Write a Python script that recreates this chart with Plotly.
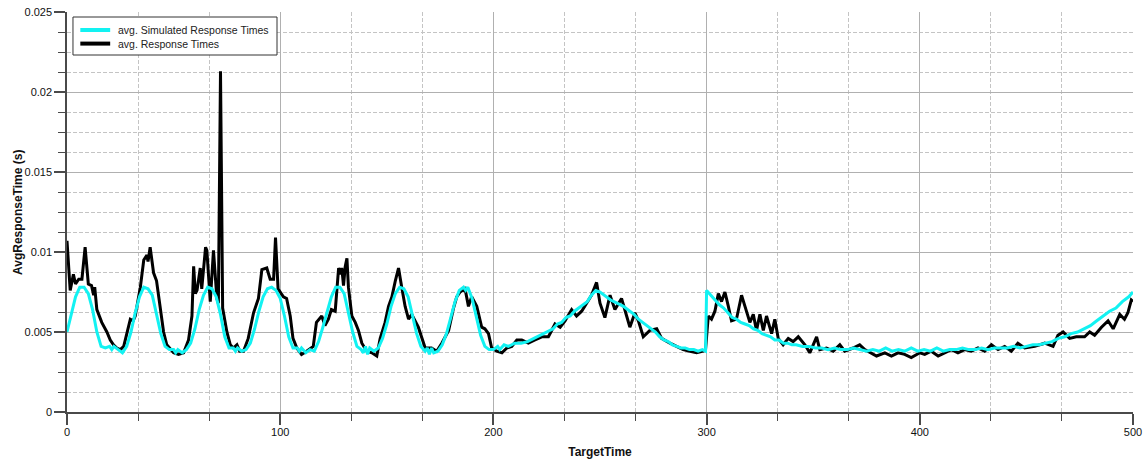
import plotly.graph_objects as go

# ---- data ----
resp_t = [0, 1.5, 3, 4, 5.5, 7, 8.5, 10, 11.5, 12.5, 13, 14, 16.3, 18.7, 20.3, 21.8, 23.4, 25, 26.6, 28,
          29.7, 31, 32, 34.4, 36, 37.5, 38, 39, 40.6, 42, 43.7, 45.3, 46.8, 48.5, 50, 52.3, 54.7, 57, 58.6, 59.4,
          60.2, 61, 62.5, 63.2, 65, 65.6, 67.2, 68.7, 70.3, 71, 72, 73, 75, 76.6, 78, 79.7, 81, 82.8, 85, 87.5,
          89.8, 91.4, 93.7, 95.3, 96.9, 97.8, 99, 101.5, 103, 104.7, 106, 107.8, 110, 112.4, 115.5, 117, 119.5, 121, 122.6, 124,
          125.8, 127.4, 128.2, 128.9, 129.7, 130.5, 131.3, 132, 133.6, 135.2, 136.7, 138.3, 140.6, 143, 145.3, 146.9, 149.2, 150.8, 152.4, 154,
          155.5, 157, 158.6, 160.2, 161.7, 164.8, 166.4, 168, 171, 173.4, 175.8, 179, 181.3, 182.8, 184.4, 186.7, 188.3, 189.8, 192.2, 194.5,
          196, 197.7, 199.2, 201.6, 204, 206.3, 208.6, 211, 213.3, 216.4, 219.5, 222.7, 225.8, 228.9, 231.3, 233.6, 236.7, 239, 241.4, 243.8,
          246, 248.4, 250, 252.3, 254.7, 257, 260.1, 262.5, 264, 266.4, 268, 270.3, 273.4, 276.6, 278.9, 282.8, 286, 289, 292.2, 295.3,
          298.4, 299.5, 300.8, 302.3, 303.9, 305.5, 307, 308.6, 310.2, 311.7, 314, 316.4, 318, 320.3, 321.9, 323.4, 325, 326.6, 328.1, 330.5,
          332, 333.6, 335.9, 338.3, 340.6, 343, 346.1, 348.4, 351.6, 353.1, 356.2, 359.4, 362.5, 364.8, 368.7, 371.8, 374.2, 377.3, 379.7, 383.6,
          386.7, 389.8, 392.9, 396, 400, 402.3, 405.4, 408.6, 411.7, 414.8, 417.9, 421, 424.2, 427.3, 430.4, 433.6, 436.7, 439.8, 442.9, 446,
          449.2, 453.9, 458.6, 462.5, 464.8, 467.2, 470.3, 473.4, 477.3, 479.7, 482, 485.2, 488.3, 490.7, 493.8, 496, 497.6, 499.2, 500]
resp_v = [0.0107, 0.0076, 0.0086, 0.0080, 0.0083, 0.0083, 0.0103, 0.0080, 0.0079, 0.0073, 0.0078, 0.0064, 0.0056, 0.0050, 0.0045, 0.0042, 0.0040, 0.0039, 0.0041, 0.0049,
          0.0058, 0.0057, 0.0060, 0.0078, 0.0095, 0.0098, 0.0094, 0.0103, 0.0087, 0.0082, 0.0066, 0.0050, 0.0042, 0.0039, 0.0037, 0.0036, 0.0037, 0.0045, 0.0060, 0.0091,
          0.0074, 0.0076, 0.0090, 0.0077, 0.0103, 0.0101, 0.0069, 0.0101, 0.0071, 0.0068, 0.0213, 0.0065, 0.0050, 0.0042, 0.0040, 0.0042, 0.0038, 0.0038, 0.0046, 0.0062,
          0.0071, 0.0089, 0.0090, 0.0083, 0.0083, 0.0109, 0.0077, 0.0072, 0.0071, 0.0060, 0.0046, 0.0040, 0.0036, 0.0038, 0.0041, 0.0056, 0.0060, 0.0054, 0.0058, 0.0064,
          0.0063, 0.0090, 0.0086, 0.0090, 0.0079, 0.0091, 0.0096, 0.0078, 0.0060, 0.0056, 0.0051, 0.0043, 0.0038, 0.0037, 0.0035, 0.0046, 0.0056, 0.0066, 0.0072, 0.0082,
          0.0090, 0.0078, 0.0066, 0.0058, 0.0061, 0.0053, 0.0046, 0.0040, 0.0040, 0.0038, 0.0043, 0.0051, 0.0065, 0.0072, 0.0075, 0.0077, 0.0066, 0.0072, 0.0066, 0.0053,
          0.0052, 0.0049, 0.0040, 0.0038, 0.0037, 0.0040, 0.0041, 0.0045, 0.0045, 0.0043, 0.0045, 0.0047, 0.0047, 0.0055, 0.0053, 0.0057, 0.0064, 0.0060, 0.0063, 0.0068,
          0.0073, 0.0081, 0.0068, 0.0059, 0.0073, 0.0064, 0.0071, 0.0060, 0.0053, 0.0062, 0.0057, 0.0047, 0.0051, 0.0052, 0.0046, 0.0043, 0.0041, 0.0039, 0.0038, 0.0037,
          0.0038, 0.0039, 0.0060, 0.0058, 0.0063, 0.0074, 0.0069, 0.0075, 0.0066, 0.0057, 0.0058, 0.0073, 0.0066, 0.0056, 0.0061, 0.0051, 0.0061, 0.0051, 0.0060, 0.0049,
          0.0058, 0.0046, 0.0042, 0.0046, 0.0044, 0.0047, 0.0042, 0.0037, 0.0047, 0.0039, 0.0040, 0.0038, 0.0042, 0.0038, 0.0040, 0.0042, 0.0039, 0.0037, 0.0035, 0.0037,
          0.0035, 0.0037, 0.0036, 0.0034, 0.0037, 0.0036, 0.0038, 0.0035, 0.0037, 0.0039, 0.0037, 0.0039, 0.0038, 0.0040, 0.0038, 0.0042, 0.0039, 0.0041, 0.0038, 0.0043,
          0.0040, 0.0041, 0.0043, 0.0041, 0.0048, 0.0050, 0.0046, 0.0047, 0.0047, 0.0050, 0.0048, 0.0053, 0.0057, 0.0052, 0.0061, 0.0058, 0.0062, 0.0070, 0.0069]

sim_t = [0, 2, 4, 6, 8, 10, 12, 14, 16, 18, 20, 21, 22, 24, 26, 28, 30, 32, 34, 36,
         38, 40, 42, 44, 46, 48, 50, 51, 52, 54, 56, 58, 60, 62, 64, 66, 68, 70, 72, 74,
         76, 78, 79, 80, 82, 84, 86, 88, 90, 92, 94, 96, 98, 100, 102, 104, 106, 108, 109, 110,
         112, 114, 116, 118, 120, 122, 124, 126, 128, 130, 132, 134, 136, 138, 139, 140, 141, 142, 144, 146,
         148, 150, 152, 154, 156, 158, 160, 162, 164, 166, 168, 169, 170, 171, 172, 174, 176, 178, 180, 182,
         184, 186, 187, 188, 190, 192, 194, 196, 198, 200, 202, 203, 205, 207, 210, 213, 216, 219, 222, 225,
         228, 230, 232, 234, 236, 238, 240, 242, 244, 246, 248, 250, 252, 255, 258, 261, 264, 266, 268, 270,
         272, 274, 276, 278, 280, 282, 284, 286, 288, 290, 292, 294, 296, 298, 299.5, 300, 302, 304, 306, 308,
         310, 312, 314, 316, 318, 320, 322, 324, 326, 328, 330, 332, 334, 336, 338, 340, 342, 345, 348, 351,
         354, 357, 360, 363, 366, 369, 372, 375, 378, 381, 384, 387, 390, 393, 396, 399, 402, 405, 408, 411,
         414, 417, 420, 423, 426, 429, 432, 435, 438, 441, 444, 447, 450, 453, 456, 459, 462, 465, 468, 471,
         474, 477, 480, 483, 486, 489, 492, 495, 498, 500]
sim_v = [0.0050, 0.0062, 0.0072, 0.0078, 0.0078, 0.0074, 0.0064, 0.0050, 0.0041, 0.0040, 0.0041, 0.0039, 0.0041, 0.0039, 0.0037, 0.0041, 0.0050, 0.0062, 0.0072, 0.0078,
         0.0077, 0.0073, 0.0062, 0.0049, 0.0041, 0.0039, 0.0039, 0.0037, 0.0039, 0.0037, 0.0039, 0.0043, 0.0052, 0.0064, 0.0073, 0.0078, 0.0077, 0.0072, 0.0061, 0.0047,
         0.0040, 0.0040, 0.0038, 0.0040, 0.0038, 0.0039, 0.0043, 0.0052, 0.0063, 0.0072, 0.0077, 0.0078, 0.0076, 0.0071, 0.0060, 0.0047, 0.0040, 0.0040, 0.0038, 0.0040,
         0.0037, 0.0039, 0.0038, 0.0044, 0.0053, 0.0063, 0.0072, 0.0078, 0.0078, 0.0074, 0.0063, 0.0050, 0.0041, 0.0039, 0.0037, 0.0041, 0.0036, 0.0040, 0.0038, 0.0040,
         0.0046, 0.0055, 0.0066, 0.0074, 0.0078, 0.0077, 0.0072, 0.0061, 0.0049, 0.0041, 0.0038, 0.0040, 0.0036, 0.0040, 0.0037, 0.0038, 0.0042, 0.0049, 0.0059, 0.0069,
         0.0076, 0.0078, 0.0076, 0.0078, 0.0071, 0.0060, 0.0048, 0.0041, 0.0039, 0.0039, 0.0041, 0.0039, 0.0042, 0.0041, 0.0043, 0.0043, 0.0044, 0.0046, 0.0048, 0.0050,
         0.0052, 0.0055, 0.0056, 0.0059, 0.0060, 0.0063, 0.0065, 0.0067, 0.0069, 0.0073, 0.0076, 0.0075, 0.0073, 0.0070, 0.0068, 0.0066, 0.0063, 0.0061, 0.0058, 0.0056,
         0.0054, 0.0052, 0.0050, 0.0047, 0.0045, 0.0044, 0.0042, 0.0041, 0.0040, 0.0040, 0.0039, 0.0039, 0.0038, 0.0039, 0.0038, 0.0076, 0.0073, 0.0070, 0.0067, 0.0065,
         0.0062, 0.0059, 0.0058, 0.0056, 0.0055, 0.0054, 0.0052, 0.0051, 0.0049, 0.0048, 0.0047, 0.0045, 0.0045, 0.0043, 0.0043, 0.0042, 0.0042, 0.0041, 0.0041, 0.0040,
         0.0040, 0.0039, 0.0040, 0.0039, 0.0039, 0.0040, 0.0039, 0.0038, 0.0039, 0.0038, 0.0040, 0.0038, 0.0039, 0.0038, 0.0040, 0.0038, 0.0039, 0.0038, 0.0040, 0.0038,
         0.0039, 0.0039, 0.0040, 0.0039, 0.0039, 0.0040, 0.0039, 0.0040, 0.0040, 0.0040, 0.0041, 0.0040, 0.0041, 0.0042, 0.0042, 0.0043, 0.0044, 0.0046, 0.0047, 0.0049,
         0.0050, 0.0052, 0.0054, 0.0057, 0.0060, 0.0063, 0.0065, 0.0069, 0.0072, 0.0075]

y_tickvals = [0, 0.005, 0.01, 0.015, 0.02, 0.025]
y_ticktext = ["0", "0.005", "0.01", "0.015", "0.02", "0.025"]
x_tickvals = [0, 100, 200, 300, 400, 500]
x_ticktext = ["0", "100", "200", "300", "400", "500"]

series_names = ["avg. Simulated Response Times", "avg. Response Times"]
series_colors = ["#12F2F2", "#000000"]

FONT = "Liberation Sans, Arial, sans-serif"
AXIS_COLOR = "#4a4a4a"

fig = go.Figure()
fig.add_trace(go.Scatter(x=resp_t, y=resp_v, mode="lines", name=series_names[1],
                         line=dict(color=series_colors[1], width=3), showlegend=False))
fig.add_trace(go.Scatter(x=sim_t, y=sim_v, mode="lines", name=series_names[0],
                         line=dict(color=series_colors[0], width=3), showlegend=False))

# legend box drawn in paper coordinates
shapes = [dict(type="rect", xref="paper", yref="paper", x0=0.0056, x1=0.197, y0=0.8925, y1=0.9875,
               line=dict(color="#333", width=1), fillcolor="white", layer="above")]
annotations = []
row_y = [0.955, 0.921]
for name, col, yy in zip(series_names, series_colors, row_y):
    shapes.append(dict(type="line", xref="paper", yref="paper", x0=0.0125, x1=0.0405, y0=yy, y1=yy,
                       line=dict(color=col, width=4), layer="above"))
    annotations.append(dict(xref="paper", yref="paper", x=0.0455, y=yy, text=name, showarrow=False,
                            xanchor="left", yanchor="middle", font=dict(size=10.5, family=FONT, color="#222")))

# y-axis title
annotations.append(dict(xref="paper", yref="paper", x=-0.046, y=0.5, text="<b>AvgResponseTime (s)</b>",
                        textangle=-90, showarrow=False, xanchor="center", yanchor="middle",
                        font=dict(size=12, family=FONT, color="#111")))

fig.update_layout(
    width=1144, height=459,
    margin=dict(l=67, r=11, t=12, b=47),
    paper_bgcolor="white", plot_bgcolor="white",
    font=dict(family=FONT, size=11, color="#111"),
    showlegend=False,
    shapes=shapes, annotations=annotations,
    xaxis=dict(range=[0, 500], tickvals=x_tickvals, ticktext=x_ticktext, automargin=False,
               showline=True, linecolor=AXIS_COLOR, linewidth=1.5,
               ticks="outside", ticklen=11, tickcolor=AXIS_COLOR, tickwidth=1.5, ticklabelstandoff=-2,
               showgrid=True, gridcolor="#b0b0b0", gridwidth=1, zeroline=False,
               minor=dict(tick0=0, dtick=100 / 3, ticks="outside", ticklen=7, tickcolor=AXIS_COLOR,
                          tickwidth=1.2, showgrid=True, gridcolor="#c4c4c4", griddash="4px,2px", gridwidth=1),
               title=dict(text="<b>TargetTime</b>", font=dict(size=12, family=FONT), standoff=11)),
    yaxis=dict(range=[0, 0.025], tickvals=y_tickvals, ticktext=y_ticktext, automargin=False,
               showline=True, linecolor=AXIS_COLOR, linewidth=1.5,
               ticks="outside", ticklen=11, tickcolor=AXIS_COLOR, tickwidth=1.5, ticklabelstandoff=0,
               showgrid=True, gridcolor="#b0b0b0", gridwidth=1, zeroline=False,
               minor=dict(tick0=0, dtick=0.00125, ticks="outside", ticklen=7, tickcolor=AXIS_COLOR,
                          tickwidth=1.2, showgrid=True, gridcolor="#c4c4c4", griddash="4px,2px", gridwidth=1)),
)

fig.write_html("out.html")
